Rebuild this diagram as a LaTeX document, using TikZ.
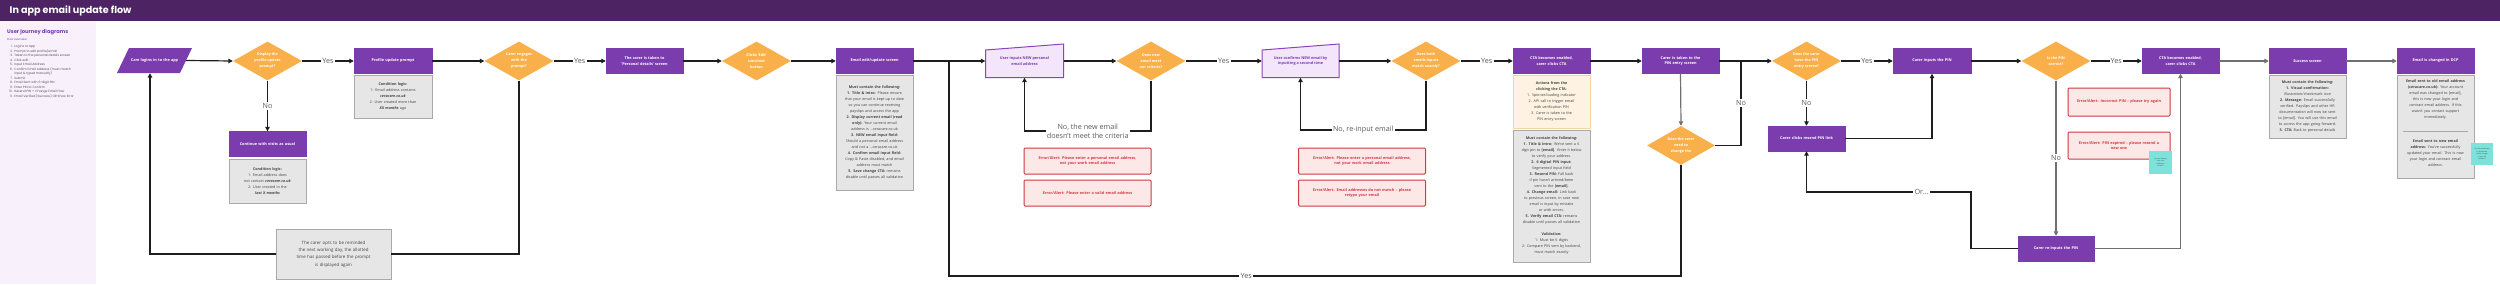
\documentclass[tikz,border=0pt]{standalone}
\usepackage{fontspec}
\setmainfont{Open Sans}
\newfontfamily\pop{Poppins}
\usetikzlibrary{shapes.geometric,arrows.meta}
\definecolor{purp}{HTML}{7B3DAE}
\definecolor{orng}{HTML}{F9B04A}
\definecolor{hdr}{HTML}{4E2363}
\definecolor{side}{HTML}{F8F1FB}
\definecolor{gfill}{HTML}{E6E6E6}
\definecolor{gborder}{HTML}{A9A9A9}
\definecolor{gtext}{HTML}{444444}
\definecolor{cfill}{HTML}{FEF3E2}
\definecolor{cborder}{HTML}{F1D6A4}
\definecolor{tfill}{HTML}{F3E6FB}
\definecolor{tborder}{HTML}{8A44C0}
\definecolor{ered}{HTML}{D03A42}
\definecolor{efill}{HTML}{FDE8E8}
\definecolor{sticky}{HTML}{7DE3DA}
\definecolor{lnc}{HTML}{1E1E1E}
\definecolor{glnc}{HTML}{707070}
\definecolor{lbltext}{HTML}{5A5A5A}
\definecolor{sbtext}{HTML}{555555}
\begin{document}
\begin{tikzpicture}[x=1pt,y=-1pt,
 ln/.style={line width=1.2pt, draw=lnc},
 gln/.style={line width=1.2pt, draw=glnc},
 arr/.style={ln, -{Triangle[length=4.5pt,width=4.5pt]}},
 garr/.style={gln, -{Triangle[length=4.5pt,width=4.5pt]}},
 pbox/.style={rectangle, fill=purp, draw=purp, minimum width=77pt, minimum height=25pt, text width=72pt, align=center, text=white, font=\bfseries\fontsize{3.8}{5.4}\selectfont, inner sep=0pt},
 dia/.style={diamond, fill=orng, minimum width=69pt, minimum height=39pt, shape aspect=1.77, inner sep=0pt, text=white, font=\bfseries\fontsize{3.7}{6}\selectfont, align=center},
 gbox/.style={rectangle, draw=gborder, fill=gfill, line width=0.8pt, minimum width=77pt, text width=76pt, inner sep=0.5pt, align=center, text=gtext, font=\fontsize{3.7}{6}\selectfont},
 cbox/.style={gbox, draw=cborder, fill=cfill},
 ebox/.style={rectangle, rounded corners=1pt, draw=ered, fill=efill, line width=1pt, text=ered, font=\bfseries\fontsize{3.8}{5.6}\selectfont, minimum width=127pt, minimum height=26pt, text width=122pt, inner sep=0pt, align=center},
 tshape/.style={fill=tfill, draw=tborder, line width=1pt},
 ttext/.style={text=purp, font=\bfseries\fontsize{3.8}{5.6}\selectfont, align=center, minimum width=78pt, minimum height=33pt, inner sep=0pt},
 lbl/.style={fill=white, text=lbltext, font=\fontsize{7.2}{8.7}\selectfont, inner sep=1.2pt, align=center},
 stickybox/.style={rectangle, fill=sticky, minimum width=23pt, minimum height=23pt, text width=20pt, inner sep=0pt, align=center, text=gtext, font=\fontsize{1.8}{2.4}\selectfont}
]
\useasboundingbox (0,0) rectangle (2500,284);
% background
\fill[side] (0,21) rectangle (96,284);
\fill[hdr] (0,0) rectangle (2500,21);
\node[anchor=west, text=white, font=\pop\bfseries\fontsize{9.6}{11}\selectfont, inner sep=0pt] (title) at (9.5,11) {In app email update flow};
% sidebar
\node[anchor=north west, inner sep=0pt, text=purp, font=\pop\bfseries\fontsize{5.2}{6}\selectfont] (sbtitle) at (7,29.5) {User journey diagrams};
\node[anchor=north west, inner sep=0pt, text=purp, font=\pop\fontsize{2.8}{3.4}\selectfont] (sbflow) at (7,38.5) {Flow overview:};
\node[anchor=north west, inner sep=0pt, text=sbtext, font=\pop\fontsize{3.1}{4.5}\selectfont] (sblist) at (9,44.5) {%
\begin{tabular}{@{}r@{\hspace{1.6pt}}l@{}}
1. & Logins to app\\
2. & Prompt to edit profile/email\\
3. & Taken to the personal details screen\\
4. & Click edit\\
5. & Input Email Address\\
6. & Confirm Email Address (must match\\
   & input \& typed manually)\\
7. & Submit\\
8. & Email Sent with 6-digit PIN\\
9. & Enter PIN to Confirm\\
10. & Resend PIN + Change Email Flow\\
11. & Email Verified (Success) OR Show Error
\end{tabular}};

% ---------- nodes ----------
\fill[purp] (117,73) -- (129,48) -- (192,48) -- (180,73) -- cycle;
\node[minimum width=63pt, minimum height=25pt, inner sep=0pt, text width=50pt, align=center, text=white, font=\bfseries\fontsize{3.8}{5.6}\selectfont] (login) at (154.5,60.5) {Care logins in to the app};
\node[dia] (d1) at (267.5,61) {Display the\\profile update\\prompt?};
\node[pbox] (cont) at (267.5,144) {Continue with visits as usual};
\node[gbox, minimum height=44pt] (cond1) at (267.5,181) {\textbf{Condition logic:}\\1: Email address does\\not contain \textbf{\textit{ceracare.co.uk}}\\2: User created in the\\\textbf{\textit{last X months}}};
\node[pbox, minimum width=78pt] (prompt) at (393,61) {Profile update prompt};
\node[gbox, minimum width=78pt, minimum height=43pt] (cond2) at (393,96.5) {\textbf{Condition logic:}\\1: Email address contains\\\textbf{\textit{ceracare.co.uk}}\\2: User created more than\\\textbf{\textit{XX months}} ago};
\node[dia] (d2) at (519,61) {Carer engages\\with the\\prompt?};
\node[gbox, minimum width=115pt, minimum height=50pt, text width=112pt, font=\fontsize{4.4}{7.3}\selectfont] (remind) at (333.5,254) {The carer opts to be reminded\\the next working day, the allotted\\time has passed before the prompt\\is displayed again};
\node[pbox] (taken) at (644.5,61) {The carer is taken to\\'Personal details' screen};
\node[dia] (d3) at (756.5,61) {Clicks 'Edit'\\icon/text\\button};
\node[pbox] (edit) at (874.5,61) {Email edit/update screen};
\node[gbox, minimum height=115pt] (editg) at (874.5,132.5) {\textbf{Must contain the following:}\\\textbf{1. Title \& Intro:} Please ensure\\that your email is kept up to date\\so you can continue receiving\\payslips and access the app\\\textbf{2. Display current email (read}\\\textbf{only):} Your current email\\address is ...ceracare.co.uk\\\textbf{3. NEW email input field:}\\Should a personal email address\\and not a ...ceracare.co.uk\\\textbf{4. Confirm email input field:}\\Copy \& Paste disabled, and email\\address must match\\\textbf{5. Save change CTA:} remains\\disable until passes all validation};

\filldraw[tshape] (985.5,50) -- (1063.5,44) -- (1063.5,77.5) -- (985.5,77.5) -- cycle;
\node[ttext] (in1) at (1024.5,61) {User inputs NEW personal\\email address};
\node[dia] (d4) at (1151,61) {Does new\\email meet\\our criteria?};
\node[ebox] (err1a) at (1087.5,161) {Error/Alert: Please enter a personal email address,\\not your work email address};
\node[ebox] (err1b) at (1087.5,193) {Error/Alert: Please enter a valid email address};

\filldraw[tshape] (1262,50) -- (1339,44) -- (1339,77.5) -- (1262,77.5) -- cycle;
\node[ttext, minimum width=77pt] (in2) at (1300.5,61) {User confirms NEW email by\\inputting a second time};
\node[dia] (d5) at (1426,61) {Does both\\emails inputs\\match exactly?};
\node[ebox] (err2a) at (1362,161) {Error/Alert: Please enter a personal email address,\\not your work email address};
\node[ebox] (err2b) at (1362,193) {Error/Alert: Email addresses do not match -- please\\retype your email};

\node[pbox] (cta1) at (1551.5,61) {CTA becomes enabled,\\carer clicks CTA};
\node[cbox, minimum height=53pt] (cream) at (1551.5,101.5) {\textbf{Actions from the}\\\textbf{clicking the CTA:}\\1. Spinner/loading indicator\\2. API call to trigger email\\with verification PIN\\3. Carer is taken to the\\PIN entry screen};
\node[gbox, minimum height=132pt] (ping) at (1551.5,196) {\textbf{Must contain the following:}\\\textbf{1. Title \& Intro:} We've sent a 6\\digit pin to \textbf{[email]}. Enter it below\\to verify your address.\\\textbf{2. 6 digital PIN input:}\\Segmented input field\\\textbf{3. Resend PIN:} Fall back\\if pin hasn't arrived/been\\sent to the \textbf{[email]}.\\\textbf{4. Change email:} Link back\\to previous screen, in case new\\email is input by mistake\\or with errors.\\\textbf{5. Verify email CTA:} remains\\disable until passes all validation\\[6pt]\textbf{Validation:}\\1: Must be 6 digits\\2: Compare PIN sent by backend,\\must match exactly};

\node[pbox] (pinentry) at (1680.5,61) {Carer is taken to the\\PIN entry screen};
\node[dia, minimum width=68pt] (d6) at (1681,145.5) {Does the carer\\need to\\change the};
\coordinate (j1) at (1741,61);
\node[dia] (d7) at (1806.5,61) {Does the carer\\have the PIN\\entry screen?};
\node[pbox] (resend) at (1806.5,138.5) {Carer clicks resend PIN link};
\node[pbox, minimum width=78pt] (inputs) at (1932,61) {Carer inputs the PIN};
\node[dia] (d8) at (2056,61) {Is the PIN\\correct?};
\node[pbox, minimum width=76pt] (reinput) at (2056,248.5) {Carer re-inputs the PIN};
\node[ebox, minimum width=102pt, text width=98pt, minimum height=28pt] (err3a) at (2119,102) {Error/Alert: Incorrect PIN -- please try again};
\node[ebox, minimum width=102pt, text width=98pt, minimum height=27pt] (err3b) at (2119,145.5) {Error/Alert: PIN expired -- please resend a\\new one};
\node[stickybox] (sticky1) at (2160.5,162.5) {Are we having\\time out\\validation\\errors?};

\node[pbox] (cta2) at (2180.5,61) {CTA becomes enabled,\\carer clicks CTA};
\node[pbox] (success) at (2307.5,61) {Success screen};
\node[gbox, minimum height=63pt] (succg) at (2307.5,106.5) {\textbf{Must contain the following:}\\\textbf{1. Visual confirmation:}\\Illustration/checkmark icon\\\textbf{2. Message:} Email successfully\\verified. Payslips and other HR\\documentation will now be sent\\to [email]. You will use this email\\to access the app going forward.\\\textbf{3. CTA:} Back to personal details};
\node[pbox] (dcp) at (2435.5,61) {Email is changed in DCP};
\node[gbox, minimum height=103pt] (dcpg) at (2435.5,126.5) {};
\node[anchor=north, text width=76pt, inner sep=0pt, align=center, text=gtext, font=\fontsize{3.7}{6}\selectfont] (dcpt1) at (2435.5,79.5) {\textbf{Email sent to old email address}\\\textbf{(ceracare.co.uk):} Your account\\email was changed to [email],\\this is now your login and\\contract email address. If this\\wasn't you contact support\\immediately.};
\coordinate (rulea) at (2403,131);
\coordinate (ruleb) at (2468,131);
\draw[gborder, line width=0.6pt] (rulea) -- (ruleb);
\node[anchor=north, text width=76pt, inner sep=0pt, align=center, text=gtext, font=\fontsize{3.7}{6}\selectfont] (dcpt2) at (2435.5,139.5) {\textbf{Email sent to new email}\\\textbf{address:} You've successfully\\updated your email. This is now\\your login and contract email\\address.};
\node[stickybox, minimum width=22pt, minimum height=22pt] (sticky2) at (2482,154) {Do we need/want\\to broadcast\\email change\\to the old\\address?};

% ---------- connectors ----------
\draw[arr] (login.east) -- (d1.west);
\draw[arr] (d1.east) -- node[lbl]{Yes} (prompt.west);
\draw[arr] (d1.south) -- node[lbl]{No} (cont.north);
\draw[arr] (prompt.east) -- (d2.west);
\draw[ln] (d2.south) |- (remind.east);
\draw[arr] (remind.west) -| ([xshift=-4.5pt]login.south);
\draw[arr] (d2.east) -- node[lbl]{Yes} (taken.west);
\draw[arr] (taken.east) -- (d3.west);
\draw[arr] (d3.east) -- (edit.west);
\draw[arr] (edit.east) -- (in1.west);
\draw[arr] (in1.east) -- (d4.west);
\coordinate (c1) at (1024.5,131);
\draw[arr] (d4.south) |- node[lbl, pos=0.75]{No, the new email\\doesn't meet the criteria} (c1) -- (in1.south);
\draw[arr] (d4.east) -- node[lbl]{Yes} (in2.west);
\draw[arr] (in2.east) -- (d5.west);
\coordinate (c2) at (1300.5,130);
\draw[arr] (d5.south) |- node[lbl, pos=0.75]{No, re-input email} (c2) -- (in2.south);
\draw[arr] (d5.east) -- node[lbl]{Yes} (cta1.west);
\draw[arr] (cta1.east) -- (pinentry.west);
\draw[garr] (pinentry.south) -- (d6.north);
\draw[ln] (d6.east) -| node[lbl, pos=0.75]{No} (j1);
\draw[arr] (pinentry.east) -- (d7.west);
\coordinate (j0b) at (949,276);
\coordinate (j0) at (949,61);
\draw[ln] (d6.south) |- node[lbl, pos=0.797]{Yes} (j0b) -- (j0);
\draw[arr] (d7.east) -- node[lbl]{Yes} (inputs.west);
\draw[arr] (d7.south) -- node[lbl]{No} (resend.north);
\draw[arr] (resend.east) -| (inputs.south);
\coordinate (j2) at (1971,192);
\coordinate (j3) at (1806.5,192);
\draw[arr] (reinput.west) -| (j2) -- node[lbl, pos=0.3]{Or...} (j3) -- (resend.south);
\draw[arr] (inputs.east) -- (d8.west);
\draw[arr] (d8.east) -- node[lbl]{Yes} (cta2.west);
\draw[garr] (d8.south) -- node[lbl]{No} (reinput.north);
\draw[garr] (reinput.east) -| (cta2.south);
\draw[garr] (cta2.east) -- (success.west);
\draw[garr] (success.east) -- (dcp.west);
\end{tikzpicture}
\end{document}
